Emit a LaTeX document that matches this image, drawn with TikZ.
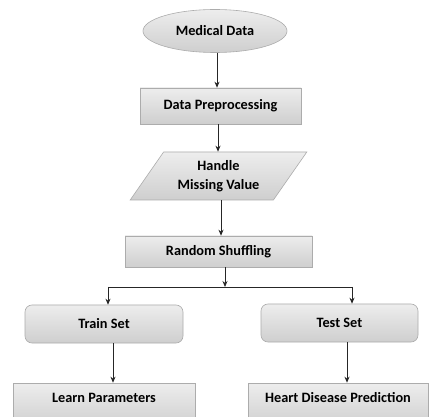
\documentclass[tikz,border=0pt]{standalone}
\usepackage{fontspec}
\setmainfont{Carlito}
\usetikzlibrary{shapes.geometric,arrows.meta}
\tikzset{
  lbl/.style={font=\bfseries\fontsize{14.3}{19.5}\selectfont, text=black},
  blk/.style={draw=gray!65, line width=0.6pt, top color=gray!14, bottom color=gray!38,
    lbl, inner sep=2pt, align=center},
  boxr/.style={blk, rectangle},
  boxround/.style={blk, rectangle, rounded corners=7pt},
  oval/.style={blk, ellipse},
  para/.style={blk, trapezium, trapezium left angle=54, trapezium right angle=126, trapezium stretches=true},
  conn/.style={draw=black!85, line width=0.8pt},
  arr/.style={conn, -{Stealth[length=6pt,width=5pt]}}
}
\begin{document}
\begin{tikzpicture}[x=1pt,y=-1pt]
\useasboundingbox (0,0) rectangle (429,417);
\clip (0,0) rectangle (429,417);
\fill[white] (0,0) rectangle (429,417);
\node[oval, minimum width=144pt, minimum height=43pt] (md) at (215,31) {Medical Data};
\node[boxr, minimum width=161pt, minimum height=36pt] (dp) at (220.5,106) {Data Preprocessing};
\node[para, minimum width=177pt, minimum height=48pt] (hm) at (218.5,176) {Handle\\Missing Value};
\node[boxr, minimum width=187pt, minimum height=31pt] (rs) at (218.5,251.5) {Random Shuffling};
\node[boxround, minimum width=158pt, minimum height=38pt] (tr) at (104,324) {Train Set};
\node[boxround, minimum width=157pt, minimum height=38pt] (te) at (339.5,323) {Test Set};
\node[boxr, minimum width=182pt, minimum height=44pt] (lp) at (104,405) {};
\node[lbl] (lpt) at (104,398) {Learn Parameters};
\node[boxr, minimum width=180pt, minimum height=44pt] (hd) at (338,405) {};
\node[lbl] (hdt) at (338,398) {Heart Disease Prediction};
\coordinate (jn) at (225,287);
\coordinate (jl) at (108,287);
\coordinate (jr) at (352,287);
\draw[arr] ([xshift=2pt]md.south) -- ([xshift=2pt]md.south |- dp.north);
\draw[arr] ([xshift=-0.5pt]hm.north |- dp.south) -- ([xshift=-0.5pt]hm.north);
\draw[arr] ([xshift=2.5pt]hm.south) -- ([xshift=2.5pt]hm.south |- rs.north);
\draw[arr] (jn |- rs.south) -- (jn);
\draw[conn] (jl) -- (jr);
\draw[arr] (jl) -- (jl |- tr.north);
\draw[arr] (jr) -- (jr |- te.north);
\draw[arr] ([xshift=9pt]tr.south) -- ([xshift=9pt]tr.south |- lp.north);
\draw[arr] ([xshift=7.5pt]te.south) -- ([xshift=7.5pt]te.south |- hd.north);
\end{tikzpicture}
\end{document}
